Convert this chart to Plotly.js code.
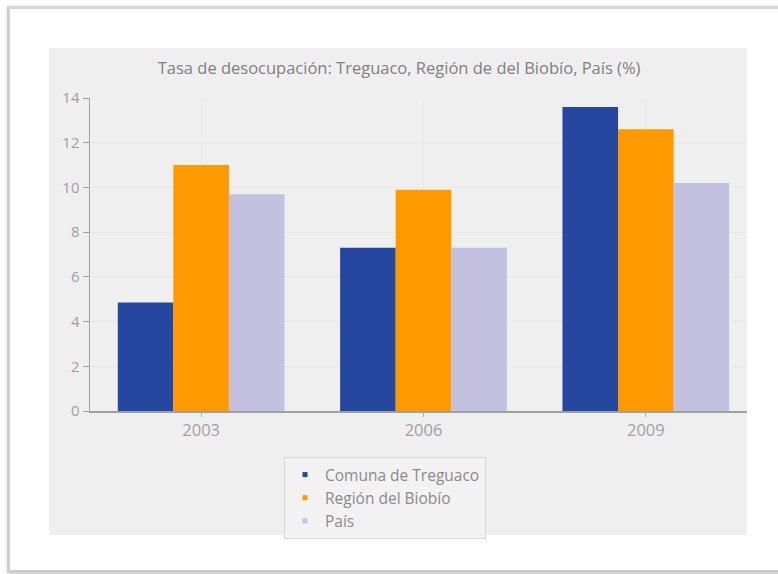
<!DOCTYPE html>
<html>
<head>
<meta charset="utf-8">
<script src="https://cdn.plot.ly/plotly-3.0.1.min.js"></script>
<style>
  html, body { margin:0; padding:0; background:#ffffff; }
  #frame { position:absolute; left:7px; top:6px; width:800px; height:561px;
           border-left:3px solid #cfcfcf; border-top:3px solid #d6d6d6; border-bottom:3px solid #cdcdcd;
           box-shadow: 1px 1px 4px rgba(0,0,0,0.25); background:#fff; }
  #chart { position:absolute; left:0; top:0; width:778px; height:574px; }
</style>
</head>
<body>
<div id="frame"></div>
<div id="chart"></div>
<script>
const titleText = "Tasa de desocupación: Treguaco, Región de del Biobío, País (%)";
const years = ["2003", "2006", "2009"];
const seriesNames = ["Comuna de Treguaco", "Región del Biobío", "País"];
const comuna = [4.85, 7.3, 13.6];
const region = [11.0, 9.9, 12.6];
const pais = [9.7, 7.3, 10.2];
const yTicks = [0, 2, 4, 6, 8, 10, 12, 14];
const colors = ["#26479f", "#fe9a00", "#c4c0e0"];

const values = [comuna, region, pais];
const font = "Open Sans, Lato, sans-serif";

const traces = [];
values.forEach((v, i) => {
  traces.push({ type: "bar", x: years, y: v, name: seriesNames[i],
    marker: { color: colors[i], line: { width: 0 } }, showlegend: false, hoverinfo: "x+y" });
});
values.forEach((v, i) => {
  traces.push({ type: "scatter", mode: "markers", x: [null], y: [null], name: seriesNames[i],
    marker: { color: colors[i], symbol: "square", size: 5 }, showlegend: true });
});

const layout = {
  width: 778, height: 574,
  margin: { l: 90, r: 31, t: 98, b: 163 },
  paper_bgcolor: "rgba(0,0,0,0)",
  plot_bgcolor: "#efefef",
  font: { family: font, color: "#999999", size: 14 },
  title: { text: titleText, font: { family: font, size: 16.5, color: "#808080" },
           xref: "container", yref: "container", x: 0.513, xanchor: "center", y: 1 - 68/574, yanchor: "middle" },
  barmode: "group", bargap: 0.25, bargroupgap: 0,
  xaxis: { type: "category", range: [-0.5, 2.455], showline: true, linecolor: "#a0a0a0", linewidth: 1.5,
           ticks: "outside", ticklen: 4, tickcolor: "#b0b0b0", showgrid: true, gridcolor: "#e8e8e8",
           tickfont: { size: 16.5, color: "#a0a0a0" }, fixedrange: true, zeroline: false },
  yaxis: { range: [0, 14], tickvals: yTicks, showline: true, linecolor: "#a0a0a0", linewidth: 1.5,
           ticks: "outside", ticklen: 6, tickcolor: "#a0a0a0", showgrid: true, gridcolor: "#e8e8e8",
           tickfont: { size: 15, color: "#a0a0a0" }, zeroline: false, fixedrange: true },
  legend: { x: (284-90)/657, xanchor: "left", y: (411-457)/313, yanchor: "top", bgcolor: "#f2f2f2",
            bordercolor: "#d6d6d6", borderwidth: 1, font: { size: 15.5, color: "#8a8a8a", family: font },
            itemwidth: 30 },
  shapes: [
    { type: "rect", xref: "paper", yref: "paper", x0: (49-90)/657, x1: 1, y0: (411-535)/313, y1: (411-48)/313,
      fillcolor: "#efefef", line: { width: 0 }, layer: "below" }
  ],
  showlegend: true
};

Plotly.newPlot("chart", traces, layout, { displayModeBar: false, staticPlot: true });
</script>
</body>
</html>
